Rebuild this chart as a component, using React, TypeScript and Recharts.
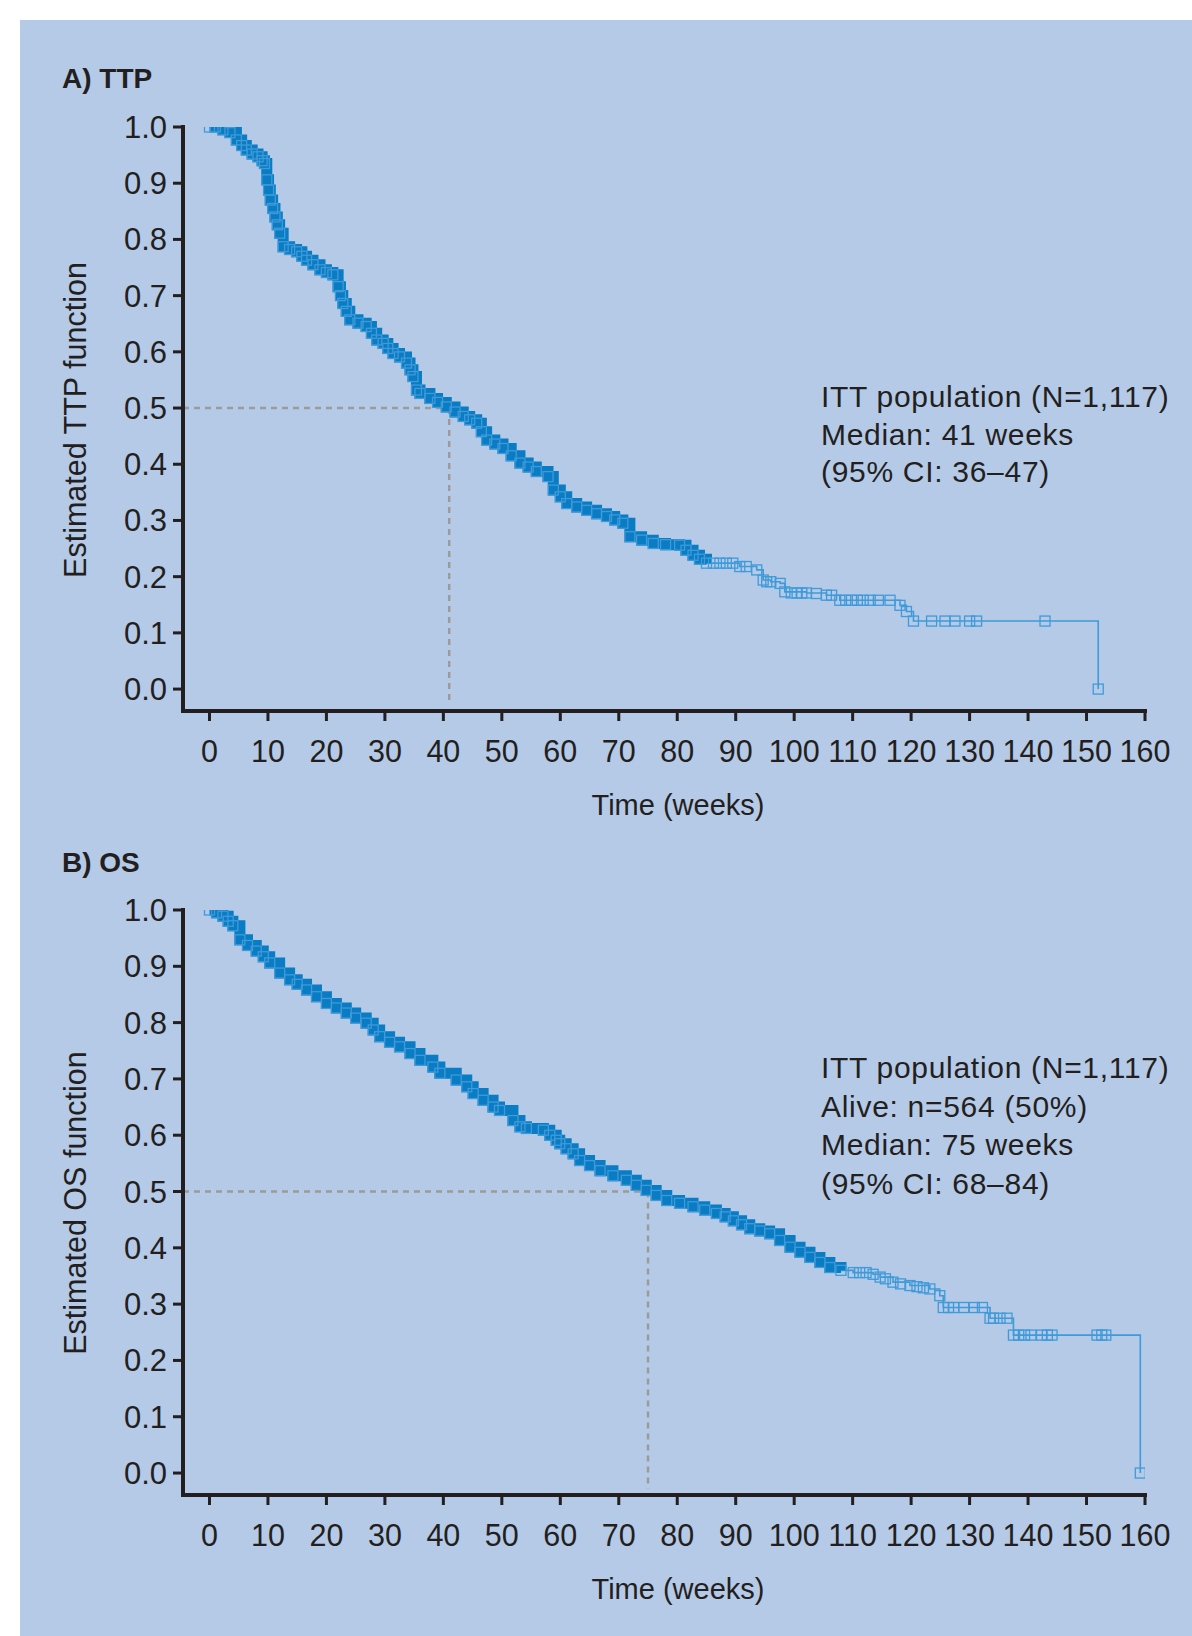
import React from "react";
import { ComposedChart, Line, Scatter, XAxis, YAxis, ReferenceLine } from "recharts";

// TTP Kaplan-Meier (weeks, survival)
const ttpWeeks = [
  0, 1, 2.3, 3.5, 4.6, 5.5, 6.3, 7.3, 8.3, 9.0, 9.4, 9.8, 10.1, 10.4, 10.8, 11.2, 11.6, 12.0, 12.6, 13.7,
  14.9, 15.8, 16.6, 17.7, 18.9, 20.0, 21.1, 22.0, 22.4, 22.8, 23.4, 24.0, 25.4, 26.8, 27.7, 28.6, 29.7, 30.5,
  31.4, 32.5, 33.7, 34.3, 34.8, 35.4, 36.0, 37.7, 39.0, 40.5, 42.0, 43.4, 44.5, 45.7, 46.5, 47.4, 48.8, 50.2,
  51.6, 53.1, 54.5, 55.9, 57.9, 58.8, 60.0, 61.1, 62.8, 64.5, 66.2, 67.9, 69.3, 70.7, 71.9, 73.9, 75.9, 78.0,
  80.4, 81.5, 82.7, 83.8, 85.0, 88.4, 90.7, 93.6, 94.7, 96.0, 97.6, 98.4, 102.1, 105.5, 107.8, 116.4, 118.1,
  119.2, 120.4, 152.0,
];
const ttpSurv = [
  1.0, 1.0, 0.995, 0.99, 0.977, 0.967, 0.959, 0.952, 0.947, 0.94, 0.935, 0.906, 0.888, 0.87, 0.855, 0.84, 0.826, 0.811, 0.787, 0.782,
  0.778, 0.77, 0.763, 0.755, 0.746, 0.741, 0.737, 0.716, 0.7, 0.686, 0.672, 0.657, 0.651, 0.645, 0.633, 0.621, 0.615, 0.606,
  0.597, 0.591, 0.58, 0.568, 0.556, 0.532, 0.526, 0.517, 0.51, 0.502, 0.493, 0.485, 0.479, 0.473, 0.458, 0.443, 0.436, 0.428,
  0.415, 0.402, 0.395, 0.387, 0.378, 0.354, 0.342, 0.33, 0.324, 0.318, 0.312, 0.307, 0.301, 0.295, 0.271, 0.265, 0.259, 0.257,
  0.256, 0.247, 0.238, 0.231, 0.224, 0.224, 0.218, 0.212, 0.194, 0.191, 0.188, 0.173, 0.171, 0.167, 0.158, 0.158, 0.149,
  0.138, 0.121, 0.0,
];
// extra censoring marks on the TTP tail
const ttpCensorWeeks = [86.2, 87.3, 89.5, 91.8, 95.3, 99.5, 100.5, 101.3, 103.8, 106.4, 108.8, 109.8, 110.8, 111.8, 113.0, 114.4, 123.5, 125.8, 127.5, 130.0, 131.2, 142.9];
const ttpCensorSurv = [0.224, 0.224, 0.224, 0.218, 0.191, 0.171, 0.171, 0.171, 0.17, 0.167, 0.158, 0.158, 0.158, 0.158, 0.158, 0.158, 0.121, 0.121, 0.121, 0.121, 0.121, 0.121];

// OS Kaplan-Meier (weeks, survival)
const osWeeks = [
  0, 1.2, 2.3, 3.2, 4.0, 5.2, 6.5, 8.0, 9.2, 10.3, 12.0, 13.7, 15.0, 16.6, 18.3, 20.0, 21.7, 23.4, 25.0, 26.8,
  28.0, 29.1, 30.8, 32.5, 34.3, 36.0, 38.2, 39.4, 42.2, 44.0, 45.1, 46.8, 48.5, 49.6, 51.9, 53.1, 54.2, 57.1,
  58.2, 59.3, 59.9, 61.0, 62.2, 63.3, 65.0, 66.8, 69.0, 71.3, 73.0, 74.7, 76.4, 78.2, 80.4, 82.7, 84.7, 86.7,
  88.2, 89.6, 91.0, 92.4, 94.1, 95.8, 97.5, 99.3, 101.0, 102.7, 104.4, 106.1, 108.0, 110.1, 113.5, 114.7, 116.9,
  119.8, 123.2, 124.9, 125.5, 133.5, 137.5, 159.2,
];
const osSurv = [
  1.0, 0.995, 0.989, 0.98, 0.972, 0.947, 0.937, 0.927, 0.917, 0.906, 0.888, 0.876, 0.868, 0.858, 0.846, 0.834, 0.826, 0.817, 0.808, 0.799,
  0.787, 0.775, 0.765, 0.757, 0.745, 0.733, 0.721, 0.71, 0.698, 0.686, 0.674, 0.662, 0.65, 0.644, 0.626, 0.615, 0.612, 0.609,
  0.6, 0.591, 0.585, 0.576, 0.567, 0.555, 0.546, 0.537, 0.528, 0.52, 0.511, 0.502, 0.493, 0.484, 0.479, 0.473, 0.467, 0.461,
  0.455, 0.448, 0.441, 0.434, 0.43, 0.425, 0.413, 0.401, 0.392, 0.383, 0.374, 0.365, 0.36, 0.356, 0.353, 0.348, 0.339,
  0.333, 0.327, 0.315, 0.294, 0.275, 0.245, 0.0,
];
const osCensorWeeks = [111.2, 112.3, 115.6, 118.2, 121.0, 122.1, 126.4, 127.3, 129.0, 130.8, 132.2, 134.1, 135.2, 136.4, 138.4, 139.4, 140.5, 142.3, 143.3, 144.1, 151.8, 152.6, 153.3];
const osCensorSurv = [0.356, 0.356, 0.345, 0.336, 0.331, 0.329, 0.294, 0.294, 0.294, 0.294, 0.294, 0.275, 0.275, 0.275, 0.245, 0.245, 0.245, 0.245, 0.245, 0.245, 0.245, 0.245, 0.245];

const xTicks = [0, 10, 20, 30, 40, 50, 60, 70, 80, 90, 100, 110, 120, 130, 140, 150, 160];
const yTicks = [0, 0.1, 0.2, 0.3, 0.4, 0.5, 0.6, 0.7, 0.8, 0.9, 1.0];

const FONT = '"Liberation Sans", Arial, sans-serif';
const INK = "#231f20";
const BAND = "#0a7cc4";
const MARK = "#3f9ad9";

const toPoints = (ts: number[], ss: number[]) => ts.map((t, i) => ({ t, s: ss[i] }));

const Square = (props: any) => {
  const { cx, cy } = props;
  if (cx == null || cy == null) return null;
  return <rect x={cx - 5} y={cy - 5} width={10} height={10} fill="none" stroke={MARK} strokeWidth={1.3} />;
};

interface KMProps {
  top: number;
  marginTop: number;
  curve: { t: number; s: number }[];
  marks: { t: number; s: number }[];
  bandEnd: number;
  median: number;
}

const KMChart = ({ top, marginTop, curve, marks, bandEnd, median }: KMProps) => {
  const band = curve.filter((d) => d.t <= bandEnd);
  return (
    <div style={{ position: "absolute", left: 0, top }}>
      <ComposedChart
        width={1192}
        height={800}
        margin={{ top: marginTop, right: 47, bottom: 0, left: 0 }}
        style={{ fontFamily: FONT }}
      >
        <XAxis
          type="number"
          dataKey="t"
          domain={[-4.53, 160]}
          ticks={xTicks}
          allowDataOverflow
          height={89}
          tickSize={10}
          tickMargin={19}
          axisLine={{ stroke: INK, strokeWidth: 4, strokeLinecap: "square" }}
          tickLine={{ stroke: INK, strokeWidth: 3 }}
          tick={{ fontSize: 30.5, fill: INK, fontFamily: FONT }}
        />
        <YAxis
          type="number"
          dataKey="s"
          domain={[-0.039, 1.0]}
          ticks={yTicks}
          allowDataOverflow
          width={183}
          tickSize={10}
          tickMargin={6}
          tickFormatter={(v: number) => v.toFixed(1)}
          axisLine={{ stroke: INK, strokeWidth: 4, strokeLinecap: "square" }}
          tickLine={{ stroke: INK, strokeWidth: 3 }}
          tick={{ fontSize: 31, fill: INK, fontFamily: FONT }}
        />
        <ReferenceLine
          segment={[{ x: -4.53, y: 0.5 }, { x: median, y: 0.5 }]}
          stroke="#9b9b9b"
          strokeWidth={2.5}
          strokeDasharray="6 5"
          ifOverflow="visible"
        />
        <ReferenceLine
          segment={[{ x: median, y: 0.5 }, { x: median, y: -0.028 }]}
          stroke="#9b9b9b"
          strokeWidth={2.5}
          strokeDasharray="6 5"
          ifOverflow="visible"
        />
        <Line
          data={curve}
          dataKey="s"
          type="stepAfter"
          stroke={MARK}
          strokeWidth={1.6}
          dot={false}
          activeDot={false}
          isAnimationActive={false}
        />
        <Line
          data={band}
          dataKey="s"
          type="stepAfter"
          stroke={BAND}
          strokeWidth={11}
          dot={false}
          activeDot={false}
          isAnimationActive={false}
        />
        <Scatter data={marks} dataKey="s" shape={Square} isAnimationActive={false} />
      </ComposedChart>
    </div>
  );
};

export default function App() {
  const ttpCurve = toPoints(ttpWeeks, ttpSurv);
  const ttpMarks = [...ttpCurve, ...toPoints(ttpCensorWeeks, ttpCensorSurv)];
  const osCurve = toPoints(osWeeks, osSurv);
  const osMarks = [...osCurve, ...toPoints(osCensorWeeks, osCensorSurv)];

  const textStyle = { fontFamily: FONT, fill: INK };

  return (
    <div style={{ position: "absolute", left: 0, top: 0, width: 1192, height: 1636, background: "#ffffff", overflow: "hidden" }}>
      <div style={{ position: "absolute", left: 20, top: 20, right: 0, bottom: 0, background: "#b5cae7" }} />
      <KMChart top={0} marginTop={127} curve={ttpCurve} marks={ttpMarks} bandEnd={85} median={41} />
      <KMChart top={784} marginTop={126} curve={osCurve} marks={osMarks} bandEnd={108} median={75} />
      <svg width={1192} height={1636} style={{ position: "absolute", left: 0, top: 0, pointerEvents: "none" }}>
        <text x={62} y={88} fontSize={28} fontWeight="bold" style={textStyle}>A) TTP</text>
        <text x={62} y={872} fontSize={28} fontWeight="bold" style={textStyle}>B) OS</text>

        <text x={86} y={420} fontSize={30.5} textAnchor="middle" transform="rotate(-90 86 420)" style={textStyle}>
          Estimated TTP function
        </text>
        <text x={86} y={1203} fontSize={30.5} textAnchor="middle" transform="rotate(-90 86 1203)" style={textStyle}>
          Estimated OS function
        </text>

        <text x={678} y={815} fontSize={29} textAnchor="middle" style={textStyle}>Time (weeks)</text>
        <text x={678} y={1599} fontSize={29} textAnchor="middle" style={textStyle}>Time (weeks)</text>

        <g fontSize={30} letterSpacing={0.7} style={textStyle}>
          <text x={821} y={407}>ITT population (N=1,117)</text>
          <text x={821} y={444.5}>Median: 41 weeks</text>
          <text x={821} y={482}>(95% CI: 36–47)</text>

          <text x={821} y={1078}>ITT population (N=1,117)</text>
          <text x={821} y={1116.5}>Alive: n=564 (50%)</text>
          <text x={821} y={1155}>Median: 75 weeks</text>
          <text x={821} y={1193.5}>(95% CI: 68–84)</text>
        </g>
      </svg>
    </div>
  );
}
